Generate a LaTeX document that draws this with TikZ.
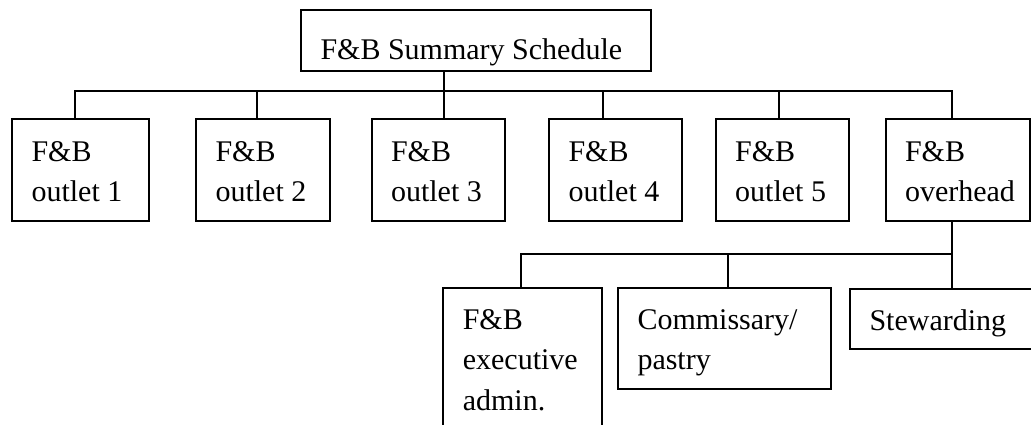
\documentclass[tikz,border=0pt]{standalone}
\usepackage{fontspec}
\setmainfont{Liberation Serif}
\usetikzlibrary{calc}
\begin{document}
\begin{tikzpicture}[x=1pt,y=-1pt,line width=2pt,
  box/.style={draw=black,rectangle,inner sep=0pt,outer sep=0pt,anchor=north west},
  lbl/.style={inner sep=0pt,outer sep=0pt,anchor=base west,align=left,
    font=\fontsize{30}{40.7}\selectfont}]
\useasboundingbox (0,0) rectangle (1031,425);
\clip (0,0) rectangle (1031,425);
\fill[white] (0,0) rectangle (1031,425);
% boxes
\node[box,minimum width=349.5pt,minimum height=60.7pt] (top) at (301,10) {};
\node[box,minimum width=137pt,minimum height=101.5pt] (b1) at (12,119.3) {};
\node[box,minimum width=134pt,minimum height=101.5pt] (b2) at (196,119.3) {};
\node[box,minimum width=133pt,minimum height=101.5pt] (b3) at (371.5,119.3) {};
\node[box,minimum width=132.7pt,minimum height=101.5pt] (b4) at (549,119.3) {};
\node[box,minimum width=133.3pt,minimum height=101.5pt] (b5) at (715.7,119.3) {};
\node[box,minimum width=144.5pt,minimum height=101.5pt] (b6) at (885.5,119.3) {};
\node[box,minimum width=158.4pt,minimum height=160pt] (ba) at (443.3,287.7) {};
\node[box,minimum width=213pt,minimum height=101.6pt] (bb) at (618,287.7) {};
\node[box,minimum width=200pt,minimum height=60pt] (bc) at (850,289.3) {};
% texts (base anchor = baseline of the last line)
\node[lbl] (ttop) at ($(top.north west)+(19.5,50)$) {F\&B Summary Schedule};
\node[lbl] (t1) at ($(b1.north west)+(19.5,82.4)$) {F\&B\\outlet 1};
\node[lbl] (t2) at ($(b2.north west)+(19.5,82.4)$) {F\&B\\outlet 2};
\node[lbl] (t3) at ($(b3.north west)+(19.5,82.4)$) {F\&B\\outlet 3};
\node[lbl] (t4) at ($(b4.north west)+(19.5,82.4)$) {F\&B\\outlet 4};
\node[lbl] (t5) at ($(b5.north west)+(19.5,82.4)$) {F\&B\\outlet 5};
\node[lbl] (t6) at ($(b6.north west)+(19.5,82.4)$) {F\&B\\overhead};
\node[lbl] (ta) at ($(ba.north west)+(19.5,122.7)$) {F\&B\\executive\\admin.};
\node[lbl] (tb) at ($(bb.north west)+(19.5,82.0)$) {Commissary/\\pastry};
\node[lbl] (tc) at ($(bc.north west)+(19.5,40.7)$) {Stewarding};
% bus coordinates
\coordinate (d1) at (75,90.7);
\coordinate (d2) at (257.3,90.7);
\coordinate (d3) at (443.5,90.7);
\coordinate (d4) at (602.5,90.7);
\coordinate (d5) at (779,90.7);
\coordinate (d6) at (952,90.7);
\coordinate (e1) at (520.7,254.3);
\coordinate (e2) at (728,254.3);
\coordinate (e3) at (952,254.3);
% connectors
\draw (d1 |- b1.north) -- (d1) -- (d6) -- (d6 |- b6.north);
\draw (d3 |- top.south) -- (d3 |- b3.north);
\draw (d2) -- (d2 |- b2.north);
\draw (d4) -- (d4 |- b4.north);
\draw (d5) -- (d5 |- b5.north);
\draw (e3 |- b6.south) -- (e3 |- bc.north);
\draw (e1 |- ba.north) -- (e1) -- (e3);
\draw (e2) -- (e2 |- bb.north);
\end{tikzpicture}
\end{document}
